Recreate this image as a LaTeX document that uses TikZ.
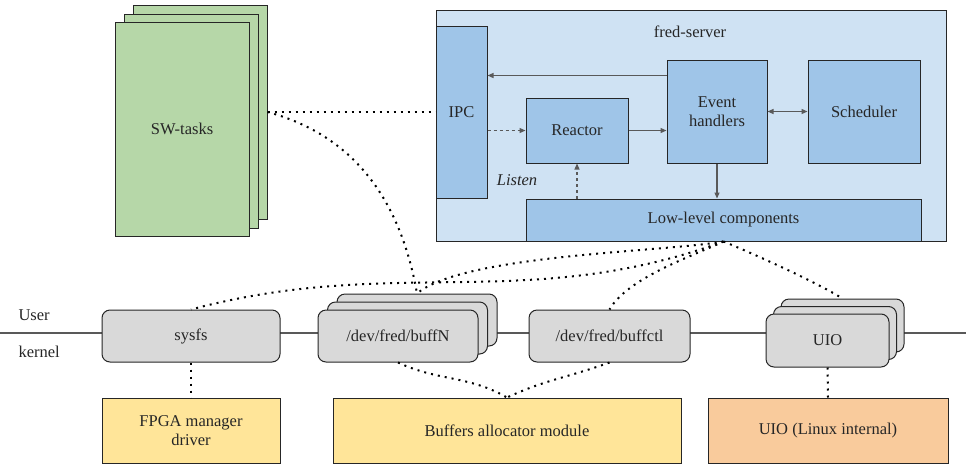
\documentclass[tikz,border=0pt]{standalone}
\usepackage{fontspec}
\setmainfont{Liberation Serif}
\newfontfamily\diagfont{Liberation Serif}
\usetikzlibrary{arrows.meta}

\definecolor{swgreen}{HTML}{B6D7A8}
\definecolor{srvblue}{HTML}{CFE2F3}
\definecolor{blkblue}{HTML}{9FC5E8}
\definecolor{devgray}{HTML}{D9D9D9}
\definecolor{modyellow}{HTML}{FFE599}
\definecolor{modorange}{HTML}{F9CB9C}
\definecolor{arrgray}{HTML}{595959}

\tikzset{
  box/.style={draw=black!85, line width=1pt, inner sep=0pt, align=center, text=black!85},
  swbox/.style={box, fill=swgreen, minimum width=134pt, minimum height=214pt},
  blkbox/.style={box, fill=blkblue},
  devbox/.style={box, fill=devgray, rounded corners=8pt, minimum height=52pt},
  modbox/.style={box, minimum height=65pt},
  arr/.style={draw=arrgray, line width=1.2pt, -{Triangle[length=6pt,width=5pt]}},
  dotlink/.style={line width=2pt, dash pattern=on 2pt off 5pt, black}
}

\begin{document}
\begin{tikzpicture}[x=1pt, y=-1pt, font=\diagfont\fontsize{16.5}{19}\selectfont]
\useasboundingbox (0,0) rectangle (966,464);

% user / kernel border
\coordinate (lineL) at (0,333);
\coordinate (lineR) at (966,333);
\draw[arrgray, line width=2pt] (lineL) -- (lineR);
\node[anchor=west, text=black!85] (user) at (15,315) {User};
\node[anchor=west, text=black!85] (kernel) at (15,352) {kernel};

% SW tasks
\node[swbox] (sw3) at (200,112) {};
\node[swbox] (sw2) at (191,121) {};
\node[swbox] (sw1) at (182,129) {SW-tasks};

% fred-server
\node[box, fill=srvblue, minimum width=510pt, minimum height=231pt] (server) at (691,125.5) {};
\node[text=black!85] (srvname) at (690,32) {fred-server};
\node[blkbox, minimum width=51pt, minimum height=172pt] (ipc) at (461.5,112) {IPC};
\node[blkbox, minimum width=102pt, minimum height=65pt] (reactor) at (577,130.5) {Reactor};
\node[blkbox, minimum width=100pt, minimum height=103pt] (events) at (717,111.5) {Event\\handlers};
\node[blkbox, minimum width=112pt, minimum height=103pt] (sched) at (864,111.5) {Scheduler};
\node[blkbox, minimum width=395pt, minimum height=42pt] (lowlvl) at (723.5,220) {Low-level components};
\node[text=black!85] (listen) at (517,180) {\itshape Listen};

\draw[arr] ([yshift=-16pt]events.north west) -- ([yshift=-16pt]events.north west -| ipc.east);
\draw[arr, dashed] (reactor.west -| ipc.east) -- (reactor.west);
\draw[arr] (reactor.east) -- (reactor.east -| events.west);
\draw[arr, {Triangle[length=6pt,width=5pt]}-{Triangle[length=6pt,width=5pt]}] (events.east) -- (sched.west);
\draw[arr] (events.south) -- (events.south |- lowlvl.north);
\draw[arr, dashed] (reactor.south |- lowlvl.north) -- (reactor.south);

% devices
\node[devbox, minimum width=178pt] (sysfs) at (191,336) {sysfs};
\node[devbox, minimum width=160pt] (buffN3) at (417,320) {};
\node[devbox, minimum width=160pt] (buffN2) at (407.5,328) {};
\node[devbox, minimum width=160pt] (buffN1) at (398,336) {/dev/fred/buffN};
\node[devbox, minimum width=161pt] (buffctl) at (609.5,336) {/dev/fred/buffctl};
\node[devbox, minimum width=123pt, minimum height=53pt] (uio3) at (842.5,325.5) {};
\node[devbox, minimum width=123pt, minimum height=53pt] (uio2) at (835,333) {};
\node[devbox, minimum width=123pt, minimum height=53pt] (uio1) at (827.5,340.5) {UIO};

% kernel modules
\node[modbox, fill=modyellow, minimum width=178pt] (fpga) at (191,430.5) {FPGA manager\\driver};
\node[modbox, fill=modyellow, minimum width=348pt] (alloc) at (507,430.5) {Buffers allocator module};
\node[modbox, fill=modorange, minimum width=240pt] (uiok) at (828,430.5) {UIO (Linux internal)};

% dotted links
\draw[dotlink] (sw3.east) -- (ipc.west);
\draw[dotlink] (sw3.east) to[out=-15,in=100] (buffN3.north);
\draw[dotlink] (lowlvl.south) to[out=200,in=15] (sysfs.north);
\draw[dotlink] (lowlvl.south) to[out=190,in=40,looseness=0.5] (buffN3.north);
\draw[dotlink] (lowlvl.south) to[out=205,in=60,looseness=0.7] (buffctl.north);
\draw[dotlink] (lowlvl.south) to[out=-22,in=148,looseness=0.6] (uio3.north);
\draw[dotlink] (sysfs.south) -- (fpga.north);
\draw[dotlink] (buffN1.south) to[out=-25,in=150] (alloc.north);
\draw[dotlink] (buffctl.south) to[out=200,in=25] (alloc.north);
\draw[dotlink] (uio1.south) -- (uiok.north);
\end{tikzpicture}
\end{document}
